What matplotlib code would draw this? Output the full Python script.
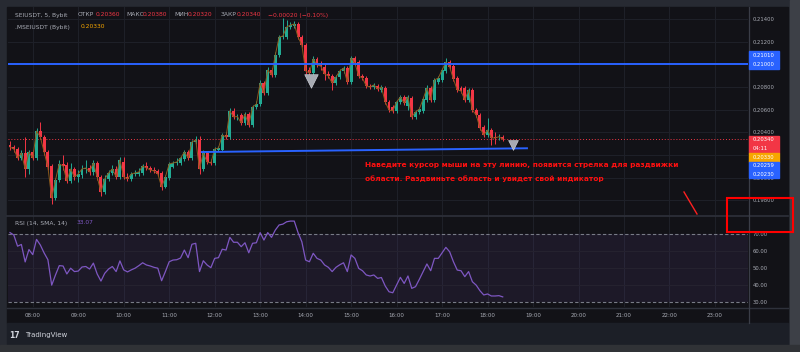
import numpy as np
import pandas as pd
import matplotlib
matplotlib.use('Agg')
import matplotlib.pyplot as plt
import matplotlib.dates as mdates
from matplotlib.patches import Rectangle

# SEIUSDT 5m candles, 07:30 .. 18:20
opens = [0.20289, 0.20271, 0.20254, 0.20174, 0.20218, 0.20078, 0.20227, 0.20174, 0.20412, 0.20359,
         0.20227, 0.20104, 0.19822, 0.19981, 0.20122, 0.20113, 0.19972, 0.20078, 0.20007, 0.20025,
         0.20078, 0.20086, 0.20051, 0.20130, 0.20007, 0.19875, 0.19990, 0.20042, 0.20078, 0.20007,
         0.20139, 0.20007, 0.19990, 0.20034, 0.20034, 0.20042, 0.20104, 0.20086, 0.20069, 0.20060,
         0.20042, 0.19919, 0.19998, 0.20095, 0.20130, 0.20130, 0.20166, 0.20227, 0.20174, 0.20315,
         0.20333, 0.20078, 0.20218, 0.20139, 0.20130, 0.20245, 0.20245, 0.20377, 0.20359, 0.20589,
         0.20536, 0.20553, 0.20483, 0.20562, 0.20465, 0.20624, 0.20650, 0.20835, 0.20747, 0.20950,
         0.20906, 0.21082, 0.21240, 0.21240, 0.21329, 0.21337, 0.21355, 0.21240, 0.21170, 0.20950,
         0.20923, 0.21047, 0.20994, 0.20976, 0.20915, 0.20897, 0.20835, 0.20888, 0.20941, 0.20967,
         0.20844, 0.21055, 0.21020, 0.20897, 0.20879, 0.20809, 0.20800, 0.20809, 0.20774, 0.20791,
         0.20668, 0.20624, 0.20589, 0.20668, 0.20712, 0.20633, 0.20703, 0.20536, 0.20580, 0.20589,
         0.20685, 0.20791, 0.20685, 0.20844, 0.20862, 0.20941, 0.21020, 0.20985, 0.20879, 0.20791,
         0.20791, 0.20685, 0.20774, 0.20597, 0.20553, 0.20447, 0.20377, 0.20421, 0.20359, 0.20359,
         0.20360]
closes = [0.20271, 0.20254, 0.20174, 0.20218, 0.20078, 0.20227, 0.20174, 0.20412, 0.20359, 0.20227,
          0.20095, 0.19822, 0.19981, 0.20122, 0.20104, 0.19972, 0.20078, 0.20007, 0.20034, 0.20078,
          0.20086, 0.20051, 0.20130, 0.20007, 0.19875, 0.19990, 0.20042, 0.20078, 0.20007, 0.20157,
          0.20007, 0.19990, 0.20034, 0.20042, 0.20051, 0.20104, 0.20086, 0.20069, 0.20060, 0.20034,
          0.19919, 0.20007, 0.20122, 0.20130, 0.20139, 0.20174, 0.20227, 0.20174, 0.20315, 0.20333,
          0.20078, 0.20218, 0.20139, 0.20130, 0.20254, 0.20262, 0.20377, 0.20359, 0.20589, 0.20536,
          0.20540, 0.20483, 0.20562, 0.20465, 0.20624, 0.20650, 0.20835, 0.20747, 0.20950, 0.20906,
          0.21082, 0.21240, 0.21249, 0.21329, 0.21346, 0.21355, 0.21240, 0.21170, 0.20941, 0.20923,
          0.21047, 0.20994, 0.20985, 0.20915, 0.20897, 0.20835, 0.20888, 0.20941, 0.20967, 0.20844,
          0.21055, 0.21011, 0.20897, 0.20879, 0.20809, 0.20800, 0.20818, 0.20782, 0.20800, 0.20668,
          0.20597, 0.20589, 0.20668, 0.20712, 0.20659, 0.20712, 0.20536, 0.20580, 0.20606, 0.20694,
          0.20791, 0.20685, 0.20862, 0.20879, 0.20950, 0.21020, 0.20976, 0.20870, 0.20774, 0.20765,
          0.20685, 0.20774, 0.20597, 0.20553, 0.20439, 0.20377, 0.20421, 0.20351, 0.20351, 0.20362,
          0.20340]
highs = [0.20324, 0.20289, 0.20271, 0.20245, 0.20359, 0.20245, 0.20245, 0.20439, 0.20492, 0.20377,
         0.20245, 0.20122, 0.19998, 0.20157, 0.20201, 0.20139, 0.20130, 0.20095, 0.20069, 0.20113,
         0.20157, 0.20113, 0.20157, 0.20148, 0.20025, 0.20025, 0.20069, 0.20113, 0.20104, 0.20183,
         0.20183, 0.20042, 0.20051, 0.20069, 0.20086, 0.20122, 0.20139, 0.20104, 0.20095, 0.20078,
         0.20060, 0.20025, 0.20139, 0.20148, 0.20174, 0.20192, 0.20245, 0.20245, 0.20333, 0.20368,
         0.20368, 0.20245, 0.20236, 0.20166, 0.20271, 0.20280, 0.20395, 0.20403, 0.20615, 0.20615,
         0.20562, 0.20571, 0.20580, 0.20580, 0.20641, 0.20677, 0.20862, 0.20853, 0.20976, 0.20967,
         0.21108, 0.21258, 0.21408, 0.21390, 0.21373, 0.21381, 0.21373, 0.21258, 0.21188, 0.20976,
         0.21073, 0.21064, 0.21029, 0.21003, 0.20941, 0.20915, 0.20906, 0.20959, 0.20985, 0.20985,
         0.21073, 0.21073, 0.21038, 0.20915, 0.20897, 0.20826, 0.20835, 0.20826, 0.20818, 0.20809,
         0.20685, 0.20641, 0.20685, 0.20729, 0.20729, 0.20729, 0.20721, 0.20597, 0.20624, 0.20712,
         0.20818, 0.20809, 0.20879, 0.20897, 0.20967, 0.21055, 0.21038, 0.21003, 0.20897, 0.20809,
         0.20809, 0.20791, 0.20791, 0.20615, 0.20571, 0.20465, 0.20527, 0.20439, 0.20403, 0.20386,
         0.20380]
lows = [0.20245, 0.20227, 0.20157, 0.20157, 0.20007, 0.20034, 0.20157, 0.20157, 0.20342, 0.20201,
        0.20069, 0.19769, 0.19805, 0.19963, 0.20069, 0.19954, 0.19954, 0.19981, 0.19963, 0.19998,
        0.20042, 0.20025, 0.20025, 0.19981, 0.19840, 0.19857, 0.19972, 0.20025, 0.19990, 0.19990,
        0.19990, 0.19972, 0.19972, 0.20016, 0.20016, 0.20025, 0.20069, 0.20051, 0.20042, 0.20016,
        0.19893, 0.19910, 0.19981, 0.20086, 0.20113, 0.20113, 0.20148, 0.20157, 0.20157, 0.20298,
        0.20034, 0.20060, 0.20122, 0.20113, 0.20113, 0.20236, 0.20236, 0.20342, 0.20342, 0.20518,
        0.20509, 0.20465, 0.20465, 0.20447, 0.20447, 0.20606, 0.20633, 0.20729, 0.20729, 0.20888,
        0.20888, 0.21064, 0.21223, 0.21223, 0.21311, 0.21320, 0.21223, 0.21152, 0.20915, 0.20897,
        0.20906, 0.20976, 0.20950, 0.20862, 0.20879, 0.20774, 0.20818, 0.20870, 0.20923, 0.20826,
        0.20826, 0.20994, 0.20879, 0.20862, 0.20791, 0.20782, 0.20782, 0.20765, 0.20756, 0.20650,
        0.20580, 0.20571, 0.20571, 0.20650, 0.20641, 0.20597, 0.20518, 0.20518, 0.20562, 0.20571,
        0.20668, 0.20668, 0.20668, 0.20826, 0.20844, 0.20923, 0.20959, 0.20853, 0.20756, 0.20747,
        0.20668, 0.20668, 0.20580, 0.20536, 0.20421, 0.20359, 0.20359, 0.20289, 0.20298, 0.20333,
        0.20320]
rsi = [71, 69.6, 63, 64, 53.7, 61, 58, 67, 63.7, 59,
       55, 40, 46, 51.5, 51.3, 46.6, 50, 48, 48.3, 50.7,
       51, 49.5, 53, 46.6, 42.4, 47, 49.5, 51, 48, 54.3,
       49, 47.8, 49, 50, 51.5, 53.2, 51.9, 51.3, 50.5, 50,
       42.6, 48, 53.8, 54.8, 55, 56, 60.7, 56.2, 64.1, 64.7,
       48, 54.4, 51.9, 50.3, 55.8, 56.2, 61.2, 60.7, 68.2, 65.3,
       65.3, 62.7, 65, 59.1, 64.7, 65, 71, 66.6, 71, 68.2,
       72.5, 75.5, 76, 77.4, 77.8, 77.8, 71, 65.6, 54.8, 53.8,
       58.8, 55.8, 54.8, 51.9, 50.5, 48, 50.5, 52, 53.2, 48,
       57.8, 55.8, 49.9, 48.5, 46, 45.4, 46, 44, 44.5, 39.5,
       36.1, 35.5, 40, 44.6, 41, 45.4, 38.1, 39.1, 43.4, 48,
       52.5, 48.5, 55.8, 55.8, 59.1, 62.3, 59.7, 53.8, 48.9, 48.5,
       45, 48, 42, 40, 36.7, 34.2, 34.8, 33.6, 33.6, 33.8,
       33.07]

hours = ['08:00', '09:00', '10:00', '11:00', '12:00', '13:00', '14:00', '15:00',
         '16:00', '17:00', '18:00', '19:00', '20:00', '21:00', '22:00', '23:00']
price_ticks = [0.214, 0.212, 0.210, 0.208, 0.206, 0.204, 0.202, 0.200, 0.198]
hline_price = 0.21000
trend_t = ['2024-01-01 11:43', '2024-01-01 18:52']
trend_p = [0.20227, 0.20260]
arrows_t = ['2024-01-01 14:07', '2024-01-01 18:33']
arrows_p = [0.20853, 0.20289]
last_price = 0.20340

GREEN = '#22ab94'
RED = '#f23645'
BG = '#121217'
TXT = '#a9acb5'
GRID = '#1e2028'

times = pd.date_range('2024-01-01 07:30', periods=len(closes), freq='5min')
x = mdates.date2num(times)
day = 1 / 1440.0
x0 = mdates.date2num(pd.Timestamp('2024-01-01 07:30'))

W, H = 800, 352
def fx(px): return px / W
def fy(py): return 1 - py / H

fig = plt.figure(figsize=(8, 3.52), dpi=100, facecolor='#272a32')
fig.add_artist(Rectangle((fx(7), fy(323)), fx(788) - fx(7), fy(7) - fy(323), color=BG, zorder=-5))
fig.add_artist(Rectangle((fx(7), fy(345)), fx(788) - fx(7), fy(323) - fy(345), color='#1c1f27', zorder=-5))
fig.add_artist(Rectangle((fx(790), 0), 1 - fx(790), 1, color='#3d4047', zorder=-5))
fig.add_artist(Rectangle((0, 0), 1, fy(345), color='#303236', zorder=-5))

ax = fig.add_axes([fx(8), fy(215), fx(748) - fx(8), fy(7) - fy(215)])
ax2 = fig.add_axes([fx(8), fy(307), fx(748) - fx(8), fy(216) - fy(307)], sharex=ax)
for a in (ax, ax2):
    a.set_facecolor(BG)
    for s in a.spines.values():
        s.set_visible(False)
    for h in hours:
        a.axvline(mdates.date2num(pd.Timestamp('2024-01-01 ' + h)), color=GRID, lw=0.8, zorder=0)

xl = x0 - 2.64 * day
xr = x0 + 973.6 * day
ax.set_xlim(xl, xr)

# main pane
ax.set_ylim(0.19672, 0.21505)
for p in price_ticks:
    ax.axhline(p, color=GRID, lw=0.8, zorder=0)
colors = [GREEN if c >= o else RED for o, c in zip(opens, closes)]
ax.vlines(x, lows, highs, colors=colors, lw=0.7, zorder=2)
bottoms = np.minimum(opens, closes)
heights = np.maximum(np.abs(np.array(closes) - np.array(opens)), 0.000015)
ax.bar(x, heights, bottom=bottoms, width=3.9 * day, color=colors, lw=0, zorder=3)
ax.plot(x, closes, color='#8a5a1c', lw=0.7, zorder=4)
ax.axhline(hline_price, color='#2962ff', lw=1.4, zorder=5)
ax.plot(mdates.date2num(pd.to_datetime(trend_t)), trend_p, color='#2962ff', lw=1.4, zorder=5)
ax.axhline(last_price, color=RED, lw=0.7, ls=(0, (1, 2)), zorder=1)
at = mdates.date2num(pd.to_datetime(arrows_t))
ax.scatter(at[:1], arrows_p[:1], marker='v', s=95, color='#a7aab2', edgecolor='#d8dbe2', lw=0.4, zorder=6)
ax.scatter(at[1:], arrows_p[1:], marker='v', s=50, color='#a7aab2', edgecolor='#d8dbe2', lw=0.4, zorder=6)

ax.yaxis.tick_right()
ax.set_yticks(price_ticks)
ax.set_yticklabels(['%.5f' % p for p in price_ticks])
ax.tick_params(axis='y', length=0, pad=3.6, labelsize=3.8, labelcolor=TXT)
ax.tick_params(axis='x', length=0, labelbottom=False)

fig.text(fx(365), fy(165), 'Наведите курсор мыши на эту линию, появится стрелка для раздвижки',
         color='#ff1010', fontsize=5.3, fontweight='bold', va='center', ha='left')
fig.text(fx(365), fy(179), 'области. Раздвиньте область и увидет свой индикатор',
         color='#ff1010', fontsize=5.3, fontweight='bold', va='center', ha='left')

# RSI pane
ax2.set_ylim(27.1, 80.8)
ax2.axhspan(30, 70, color='#7e57c2', alpha=0.10, lw=0, zorder=0)
for lv in (60, 50, 40):
    ax2.axhline(lv, color='#25222f', lw=0.8, zorder=0)
ax2.axhline(70, color='#787b86', lw=0.8, ls=(0, (3, 2)), zorder=1)
ax2.axhline(30, color='#787b86', lw=0.8, ls=(0, (3, 2)), zorder=1)
ax2.plot(x, rsi, color='#7e57c2', lw=0.9, zorder=3)
ax2.yaxis.tick_right()
ax2.set_yticks([70, 60, 50, 40, 30])
ax2.set_yticklabels(['70.00', '60.00', '50.00', '40.00', '30.00'])
ax2.tick_params(axis='y', length=0, pad=3.6, labelsize=3.8, labelcolor=TXT)
ax2.set_xticks([mdates.date2num(pd.Timestamp('2024-01-01 ' + h)) for h in hours])
ax2.set_xticklabels(hours)
ax2.tick_params(axis='x', length=0, pad=4.2, labelsize=4.0, labelcolor=TXT)

# separators
sep = '#2e313b'
fig.add_artist(plt.Line2D([fx(7), fx(788)], [fy(215.5), fy(215.5)], color=sep, lw=1.2))
fig.add_artist(plt.Line2D([fx(7), fx(788)], [fy(307.5), fy(307.5)], color=sep, lw=1.0))
fig.add_artist(plt.Line2D([fx(748.5), fx(748.5)], [fy(323), fy(7)], color='#3a3d47', lw=0.9))

# legends
hy = fy(15)
fig.text(fx(15), hy, 'SEIUSDT, 5, Bybit', color=TXT, fontsize=4.3, va='center')
for lab, lx, val, vx in [('ОТКР', 78, '0.20360', 96), ('МАКС', 126, '0.20380', 143),
                         ('МИН', 174, '0.20320', 188), ('ЗАКР', 221, '0.20340', 237)]:
    fig.text(fx(lx), hy, lab, color=TXT, fontsize=4.3, va='center')
    fig.text(fx(vx), hy, val, color=RED, fontsize=4.3, va='center')
fig.text(fx(268), hy, '\u22120.00020 (\u22120.10%)', color=RED, fontsize=4.3, va='center')
fig.text(fx(15), fy(27), '.MSEIUSDT (Bybit)', color=TXT, fontsize=4.3, va='center')
fig.text(fx(81), fy(27), '0.20330', color='#f7a600', fontsize=4.3, va='center')
fig.text(fx(15), fy(223), 'RSI (14, SMA, 14)', color=TXT, fontsize=4.3, va='center')
fig.text(fx(77), fy(223), '33.07', color='#7e57c2', fontsize=4.3, va='center')

# price tags
def tag(y1, y2, color, lines, tcolor='white'):
    fig.add_artist(Rectangle((fx(748.5), fy(y2)), fx(779) - fx(748.5), fy(y1) - fy(y2),
                             color=color, zorder=5))
    n = len(lines)
    for i, t in enumerate(lines):
        yy = y1 + (y2 - y1) * (i + 0.5) / n
        fig.text(fx(753), fy(yy), t, color=tcolor, fontsize=3.8, va='center', zorder=6)

tag(51, 69.3, '#2962ff', ['0.21010', '0.21000'])
tag(135.7, 152.7, RED, ['0.20340', '04:11'])
tag(152.7, 161.7, '#f7a600', ['0.20330'])
tag(161.7, 178.3, '#2962ff', ['0.20259', '0.20230'])

# red box and arrow
fig.add_artist(Rectangle((fx(727), fy(232)), fx(793) - fx(727), fy(198) - fy(232),
                         fill=False, edgecolor='#ff0000', lw=1.5, zorder=7))
fig.add_artist(plt.Line2D([fx(684), fx(697)], [fy(192), fy(214)], color='#ff2020', lw=1.0, zorder=7))

# logo
fig.text(fx(9), fy(335), '17', color='#d1d4dc', fontsize=5.5, fontweight='bold', va='center')
fig.text(fx(25), fy(335), 'TradingView', color='#d1d4dc', fontsize=5.0, va='center')

fig.savefig('out.png', dpi=100, facecolor=fig.get_facecolor())
